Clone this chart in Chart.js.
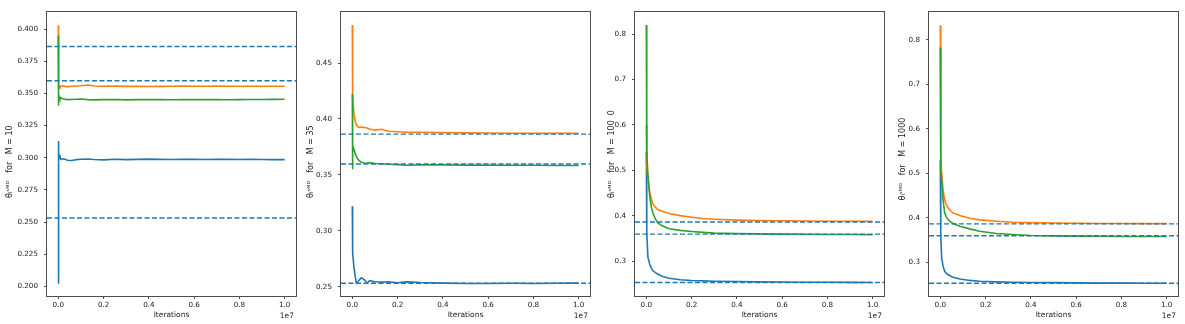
<!DOCTYPE html>
<html>
<head>
<meta charset="utf-8">
<script src="https://cdn.jsdelivr.net/npm/chart.js@4.4.1/dist/chart.umd.min.js"></script>
<style>
  body { margin: 0; background: #fff; }
  #wrap { position: relative; width: 1185px; height: 324px; }
  canvas { position: absolute; top: 0; }
</style>
</head>
<body>
<div id="wrap">
  <canvas id="c0" width="300" height="324" style="left:0px"></canvas>
  <canvas id="c1" width="300" height="324" style="left:294px"></canvas>
  <canvas id="c2" width="300" height="324" style="left:588px"></canvas>
  <canvas id="c3" width="300" height="324" style="left:882px"></canvas>
</div>
<script>
// axes shared by all panels
const xLimits = [-0.05e7, 1.05e7];
const xTicks = [0, 0.2e7, 0.4e7, 0.6e7, 0.8e7, 1.0e7];
const refLines = [0.3865, 0.3598, 0.2532];

// M = 10
const xs1 = [0, 3e3, 1e4, 2e4, 4e4, 7e4, 1e5, 1.5e5, 2e5, 3e5, 4e5, 6e5, 8e5, 1e6, 1.3e6, 1.6e6, 2e6, 2.5e6, 3e6, 3.5e6, 4e6, 4.5e6, 5e6, 5.5e6, 6e6, 6.5e6, 7e6, 7.5e6, 8e6, 8.5e6, 9e6, 9.5e6, 1e7];
const blue1 = [0.2025, 0.313, 0.2975, 0.305, 0.2995, 0.302, 0.299, 0.2985, 0.2992, 0.2988, 0.298, 0.2978, 0.2985, 0.2988, 0.299, 0.2986, 0.2983, 0.2988, 0.2985, 0.2987, 0.2989, 0.2987, 0.2986, 0.2988, 0.2987, 0.2986, 0.2988, 0.2987, 0.2986, 0.2987, 0.2986, 0.2985, 0.2985];
const orange1 = [0.403, 0.395, 0.3535, 0.355, 0.354, 0.3555, 0.3552, 0.3558, 0.356, 0.3555, 0.3553, 0.3556, 0.3558, 0.356, 0.3565, 0.3558, 0.3556, 0.3557, 0.3555, 0.3556, 0.3554, 0.3555, 0.3556, 0.3557, 0.3556, 0.3556, 0.3557, 0.3556, 0.3556, 0.3556, 0.3556, 0.3556, 0.3556];
const green1 = [0.395, 0.3405, 0.346, 0.3435, 0.3475, 0.346, 0.3465, 0.3462, 0.3458, 0.3455, 0.3452, 0.3453, 0.3455, 0.3457, 0.3452, 0.345, 0.3452, 0.3453, 0.345, 0.3452, 0.3453, 0.3452, 0.3451, 0.3452, 0.3452, 0.3453, 0.3452, 0.3451, 0.3452, 0.3453, 0.3453, 0.3454, 0.3455];
const yTicks1 = [0.200, 0.225, 0.250, 0.275, 0.300, 0.325, 0.350, 0.375, 0.400];

// M = 35
const xs2 = [0, 3e3, 1e4, 3e4, 7e4, 1.3e5, 1.8e5, 2.5e5, 3.2e5, 4e5, 5.5e5, 6.5e5, 7.7e5, 1e6, 1.3e6, 1.6e6, 2e6, 2.4e6, 3e6, 4e6, 5e6, 6e6, 7e6, 8e6, 9e6, 1e7];
const blue2 = [0.322, 0.30, 0.288, 0.280, 0.268, 0.259, 0.2533, 0.2545, 0.2565, 0.258, 0.256, 0.2533, 0.2555, 0.2546, 0.2542, 0.2545, 0.2537, 0.2544, 0.2538, 0.2533, 0.253, 0.253, 0.2532, 0.253, 0.2532, 0.2533];
const orange2 = [0.484, 0.45, 0.43, 0.418, 0.405, 0.398, 0.3948, 0.393, 0.3924, 0.3928, 0.3924, 0.392, 0.391, 0.390, 0.3908, 0.389, 0.3886, 0.3882, 0.3882, 0.3878, 0.3876, 0.3874, 0.3873, 0.3873, 0.3873, 0.3873];
const green2 = [0.422, 0.355, 0.378, 0.376, 0.373, 0.369, 0.3664, 0.364, 0.3625, 0.3612, 0.3604, 0.3606, 0.361, 0.3602, 0.360, 0.3595, 0.3592, 0.3587, 0.359, 0.359, 0.3588, 0.3588, 0.3587, 0.3586, 0.3584, 0.3584];
const yTicks2 = [0.25, 0.30, 0.35, 0.40, 0.45];

// M = 100
const xs3 = [0, 1e4, 3e4, 7e4, 1.5e5, 2.2e5, 3e5, 4e5, 5e5, 7e5, 1e6, 1.5e6, 2e6, 2.5e6, 3e6, 4e6, 5e6, 6e6, 7e6, 8e6, 9e6, 1e7];
const blue3 = [0.541, 0.40, 0.3635, 0.309, 0.294, 0.285, 0.279, 0.275, 0.272, 0.267, 0.2625, 0.2595, 0.2578, 0.2568, 0.2561, 0.2554, 0.2547, 0.2543, 0.254, 0.2537, 0.2535, 0.2532];
const orange3 = [0.60, 0.55, 0.51, 0.48, 0.452, 0.437, 0.425, 0.419, 0.414, 0.41, 0.405, 0.4005, 0.397, 0.394, 0.3925, 0.3905, 0.3895, 0.389, 0.3885, 0.3882, 0.388, 0.3878];
const green3 = [0.820, 0.64, 0.54, 0.49, 0.445, 0.419, 0.405, 0.393, 0.385, 0.378, 0.3715, 0.368, 0.3655, 0.3635, 0.362, 0.3608, 0.3602, 0.3597, 0.3594, 0.359, 0.3588, 0.3585];
const yTicks3 = [0.3, 0.4, 0.5, 0.6, 0.7, 0.8];

// M = 1000
const xs4 = [0, 1e4, 3e4, 6e4, 1.2e5, 1.9e5, 2.6e5, 3.4e5, 4.5e5, 5.6e5, 8.6e5, 1.3e6, 1.74e6, 2.48e6, 3.2e6, 4e6, 5e6, 6e6, 7e6, 8e6, 9e6, 1e7];
const blue4 = [0.53, 0.42, 0.36, 0.31, 0.2915, 0.2802, 0.2755, 0.2727, 0.2695, 0.2668, 0.2625, 0.2595, 0.2578, 0.2563, 0.2555, 0.2549, 0.2545, 0.254, 0.2535, 0.2534, 0.2533, 0.2533];
const orange4 = [0.833, 0.62, 0.53, 0.50, 0.4636, 0.4412, 0.43, 0.4225, 0.416, 0.4112, 0.4052, 0.3993, 0.3955, 0.3925, 0.3903, 0.3893, 0.3885, 0.388, 0.3875, 0.3873, 0.3872, 0.3872];
const green4 = [0.783, 0.58, 0.50, 0.4861, 0.4412, 0.4112, 0.403, 0.3963, 0.391, 0.3873, 0.3813, 0.3753, 0.3701, 0.3648, 0.3626, 0.3603, 0.3596, 0.359, 0.3586, 0.3583, 0.3581, 0.358];
const yTicks4 = [0.3, 0.4, 0.5, 0.6, 0.7, 0.8];

const FONT = 'DejaVu Sans';
const TXT = '#1a1a1a';
const EDGE = '#4d4d4d';

const boxPlugin = {
  id: 'box',
  afterDraw(chart) {
    const { ctx, chartArea: a } = chart;
    ctx.save();
    ctx.strokeStyle = EDGE;
    ctx.lineWidth = 1;
    ctx.strokeRect(Math.round(a.left) - 0.5, Math.round(a.top) - 0.5,
      Math.round(a.right - a.left) + 1, Math.round(a.bottom - a.top) + 1);
    ctx.fillStyle = TXT;
    ctx.font = '7.5px "' + FONT + '"';
    ctx.textAlign = 'right';
    ctx.textBaseline = 'middle';
    ctx.fillText('1e7', a.right - 2, 316);
    ctx.restore();
  }
};

function pts(xs, ys) {
  return xs.map((x, i) => ({ x: x, y: ys[i] }));
}

function panel(id, xs, blue, orange, green, yRange, yTicks, digits, label, titlePad) {
  const series = [
    { data: pts(xs, blue), borderColor: '#1f77b4', order: 4 },
    { data: pts(xs, orange), borderColor: '#ff7f0e', order: 3 },
    { data: pts(xs, green), borderColor: '#2ca02c', order: 2 }
  ].map(d => Object.assign(d, { borderWidth: 1.6, pointRadius: 0, tension: 0 }));

  const dashed = refLines.map(h => ({
    data: [{ x: xLimits[0], y: h }, { x: xLimits[1], y: h }],
    borderColor: '#1f77b4',
    borderWidth: 1.4,
    borderDash: [5, 2.5],
    pointRadius: 0,
    order: 1
  }));

  new Chart(document.getElementById(id), {
    type: 'line',
    data: { datasets: series.concat(dashed) },
    options: {
      responsive: false,
      animation: false,
      layout: { padding: { top: 12, right: 4, left: 0, bottom: 0 } },
      plugins: { legend: { display: false }, tooltip: { enabled: false } },
      scales: {
        x: {
          type: 'linear',
          min: xLimits[0],
          max: xLimits[1],
          afterBuildTicks: s => { s.ticks = xTicks.map(v => ({ value: v })); },
          afterFit: s => { s.height = 28; },
          ticks: {
            color: TXT,
            font: { family: FONT, size: 7.2 },
            padding: 2,
            maxRotation: 0,
            callback: v => (v / 1e7).toFixed(1)
          },
          grid: { drawOnChartArea: false, drawTicks: true, tickLength: 3, color: EDGE },
          border: { display: false },
          title: {
            display: true,
            text: 'Iterations',
            color: TXT,
            font: { family: FONT, size: 7.5 },
            padding: { top: 0, bottom: 4 }
          }
        },
        y: {
          type: 'linear',
          min: yRange[0],
          max: yRange[1],
          afterBuildTicks: s => { s.ticks = yTicks.map(v => ({ value: v })); },
          afterFit: s => { s.width = 47; },
          ticks: {
            color: TXT,
            font: { family: FONT, size: 7.2 },
            padding: 6,
            callback: v => v.toFixed(digits)
          },
          grid: { drawOnChartArea: false, drawTicks: true, tickLength: 3, color: EDGE },
          border: { display: false },
          title: {
            display: true,
            text: label,
            color: TXT,
            font: { family: FONT, size: 8 },
            padding: { top: titlePad, bottom: 0 }
          }
        }
      }
    },
    plugins: [boxPlugin]
  });
}

panel('c0', xs1, blue1, orange1, green1, [0.1925, 0.4133], yTicks1, 3, 'θᵢˢᴹᴰ   for   M = 10      ', 5.5);
panel('c1', xs2, blue2, orange2, green2, [0.2418, 0.4956], yTicks2, 2, 'θᵢˢᴹᴰ   for   M = 35      ', 12.5);
panel('c2', xs3, blue3, orange3, green3, [0.2236, 0.8484], yTicks3, 1, 'θᵢˢᴹᴰ   for   M = 100  0', 19);
panel('c3', xs4, blue4, orange4, green4, [0.2245, 0.8625], yTicks4, 1, 'θᵢˢᴹᴰ   for   M = 1000    ', 16.5);
</script>
</body>
</html>
